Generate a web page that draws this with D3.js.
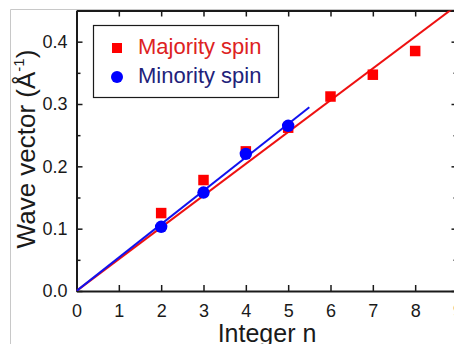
<!DOCTYPE html>
<html lang="en">
<head>
<meta charset="UTF-8">
<script src="https://d3js.org/d3.v7.min.js"></script>
<style>
  body { margin: 0; background: #fff; }
  text { font-family: "Liberation Sans", Arial, sans-serif; }
</style>
</head>
<body>
<div id="container"></div>
<script>
// data
var majN = [2, 3, 4, 5, 6, 7, 8];
var majK = [0.125, 0.178, 0.224, 0.262, 0.312, 0.347, 0.385];
var minN = [2, 3, 4, 5];
var minK = [0.103, 0.158, 0.220, 0.265];
// linear fits through the origin: [start n, end n, slope]
var majFit = [0, 9, 0.0510];
var minFit = [0, 5.5, 0.0536];
var xTicks = [0, 1, 2, 3, 4, 5, 6, 7, 8, 9];
var yTicks = [0.0, 0.1, 0.2, 0.3, 0.4];
var yMinor = [0.05, 0.15, 0.25, 0.35];

var width = 454, height = 344;
var svg = d3.select("#container").append("svg").attr("width", width).attr("height", height);

// thin grey picture border
svg.append("path").attr("d", "M10.5,344 V9.5 H454").attr("fill", "none").attr("stroke", "#c8c8c8").attr("stroke-width", 1);

var x = d3.scaleLinear().domain([0, 9]).range([76.5, 457.5]);
var y = d3.scaleLinear().domain([0, 0.45]).range([291, 10.5]);

var ink = "#1a1a1a";

// axes
svg.append("g").attr("transform", "translate(0," + y(0) + ")")
    .call(d3.axisBottom(x).tickValues(xTicks).tickSizeInner(-6).tickSizeOuter(0).tickPadding(13).tickFormat(d3.format("d")));
svg.append("g").attr("transform", "translate(0," + y(0.45) + ")")
    .call(d3.axisTop(x).tickValues(xTicks).tickSizeInner(-6).tickSizeOuter(0).tickFormat(""));
svg.append("g").attr("transform", "translate(" + x(0) + ",0)")
    .call(d3.axisLeft(y).tickValues(yTicks).tickSizeInner(-6).tickSizeOuter(0).tickPadding(9).tickFormat(d3.format(".1f")));
svg.append("g").attr("transform", "translate(" + x(9) + ",0)")
    .call(d3.axisRight(y).tickValues(yTicks).tickSizeInner(-6).tickSizeOuter(0).tickFormat(""));
svg.append("g").attr("transform", "translate(" + x(0) + ",0)")
    .call(d3.axisLeft(y).tickValues(yMinor).tickSizeInner(-4).tickSizeOuter(0).tickFormat(""));
svg.append("g").attr("transform", "translate(" + x(9) + ",0)")
    .call(d3.axisRight(y).tickValues(yMinor).tickSizeInner(-4).tickSizeOuter(0).tickFormat(""));

svg.selectAll(".domain").attr("stroke", ink).attr("stroke-width", 2);
svg.selectAll(".tick line").attr("stroke", ink).attr("stroke-width", 1.5);
svg.selectAll(".tick text").attr("fill", ink).attr("font-size", 18);

// fit lines
var line = d3.line().x(function (d) { return x(d[0]); }).y(function (d) { return y(d[1]); });
function fitPts(f) { return [[f[0], f[0] * f[2]], [f[1], f[1] * f[2]]]; }

var plot = svg.append("g");
plot.append("clipPath").attr("id", "clip").append("rect")
    .attr("x", x(0)).attr("y", y(0.45)).attr("width", x(9) - x(0)).attr("height", y(0) - y(0.45));
var inner = plot.append("g").attr("clip-path", "url(#clip)");

inner.append("path").datum(fitPts(majFit)).attr("d", line)
    .attr("fill", "none").attr("stroke", "#ee1111").attr("stroke-width", 2);
inner.append("path").datum(fitPts(minFit)).attr("d", line)
    .attr("fill", "none").attr("stroke", "#1111ee").attr("stroke-width", 2);

var sq = 10.5;
inner.selectAll("rect.maj").data(majN).enter().append("rect").attr("class", "maj")
    .attr("x", function (d) { return x(d) - sq / 2; })
    .attr("y", function (d, i) { return y(majK[i]) - sq / 2; })
    .attr("width", sq).attr("height", sq).attr("fill", "#ff0000");
inner.selectAll("circle.min").data(minN).enter().append("circle").attr("class", "min")
    .attr("cx", function (d) { return x(d); })
    .attr("cy", function (d, i) { return y(minK[i]); })
    .attr("r", 6.2).attr("fill", "#0000ff");

// legend
var lg = svg.append("g");
lg.append("rect").attr("x", 93.5).attr("y", 25.5).attr("width", 185).attr("height", 72)
    .attr("fill", "#fff").attr("stroke", ink).attr("stroke-width", 1.2);
lg.append("rect").attr("x", 112).attr("y", 43).attr("width", 10).attr("height", 10).attr("fill", "#ff0000");
lg.append("circle").attr("cx", 117).attr("cy", 77).attr("r", 6).attr("fill", "#0000ff");
lg.append("text").attr("x", 138).attr("y", 53.5).attr("font-size", 22).attr("fill", "#dd2222").text("Majority spin");
lg.append("text").attr("x", 138).attr("y", 82.5).attr("font-size", 22).attr("fill", "#22227a").text("Minority spin");

// axis titles
svg.append("text").attr("x", (x(0) + x(9)) / 2).attr("y", 342).attr("text-anchor", "middle")
    .attr("font-size", 25).attr("fill", ink).text("Integer n");
var yt = svg.append("text").attr("transform", "translate(35,149) rotate(-90)")
    .attr("text-anchor", "middle").attr("font-size", 26).attr("fill", ink);
yt.append("tspan").text("Wave vector (Å");
yt.append("tspan").attr("font-size", 15).attr("dy", -11).text("-1");
yt.append("tspan").attr("dy", 11).text(")");
</script>
</body>
</html>
